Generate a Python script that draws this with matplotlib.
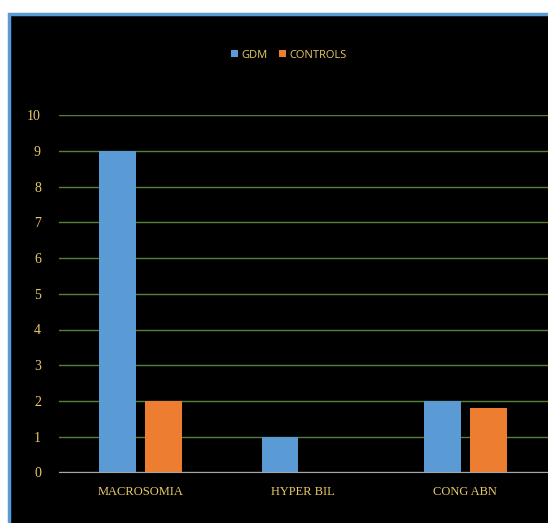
import numpy as np
import matplotlib.pyplot as plt
from matplotlib.patches import Rectangle

categories = ['MACROSOMIA', 'HYPER BIL', 'CONG ABN']
gdm = [9, 1, 2]
controls = [2, 0, 1.8]
yticks = [0, 1, 2, 3, 4, 5, 6, 7, 8, 9, 10]

txt_col = '#E8C96A'
blue = '#5B9BD5'
orange = '#ED7D31'

fig = plt.figure(figsize=(5.48, 5.23), dpi=100, facecolor='white')
# black chart area with blue outline
fig.patches.append(Rectangle((8.5 / 548, -0.02), 1.0, (523 - 13.5) / 523 + 0.02,
                             transform=fig.transFigure, facecolor='black',
                             edgecolor=blue, linewidth=2.5, zorder=-5))

ax = fig.add_axes([59 / 548, (523 - 472.3) / 523, 1 - 59 / 548, (472.3 - 115.3) / 523])
ax.set_facecolor('none')

x = np.arange(len(categories))
w = 0.225
ax.bar(x - 0.142, gdm, w, color=blue, zorder=3, label='GDM')
ax.bar(x + 0.142, controls, w, color=orange, zorder=3, label='CONTROLS')

ax.set_ylim(0, 10)
ax.set_xlim(-0.502, 2.509)
ax.set_yticks(yticks)
ax.set_xticks(x)
ax.set_xticklabels(categories)
ax.grid(axis='y', color='#548235', linewidth=1, zorder=1)
ax.tick_params(length=0, colors=txt_col)
for lab in ax.get_yticklabels():
    lab.set_fontfamily('Liberation Serif')
    lab.set_fontsize(10)
for lab in ax.get_xticklabels():
    lab.set_fontfamily('Liberation Serif')
    lab.set_fontsize(9)
ax.tick_params(axis='y', pad=13)
ax.tick_params(axis='x', pad=10)
for s in ['top', 'right', 'left']:
    ax.spines[s].set_visible(False)
ax.spines['bottom'].set_color('#A6A6A6')
ax.spines['bottom'].set_zorder(4)

leg = fig.legend(loc='center', bbox_to_anchor=(289 / 548, 1 - 55 / 523), ncol=2,
                 frameon=False, prop={'family': 'Open Sans', 'size': 8},
                 handlelength=0.6, handleheight=0.6,
                 handletextpad=0.35, columnspacing=1.0)
for t in leg.get_texts():
    t.set_color(txt_col)

fig.savefig('out.png', dpi=100, facecolor='white')
